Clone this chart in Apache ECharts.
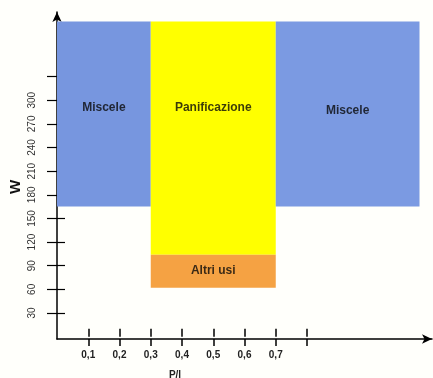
<!DOCTYPE html>
<html><head><meta charset="utf-8">
<script src="https://cdn.jsdelivr.net/npm/echarts@6/dist/echarts.min.js"></script>
<style>html,body{margin:0;padding:0;background:#fffffb}#c{width:433px;height:378px}</style>
</head><body><div id="c"></div>
<script>
// Regions (W vs P/L)
const regions = ['Miscele', 'Panificazione', 'Miscele', 'Altri usi'];
const plStart = [0, 0.3, 0.7, 0.3];
const plEnd = [0.3, 0.7, 1.16, 0.7];
const wLow = [165, 104, 165, 62];
const wHigh = [400, 400, 400, 104];
// label anchors
const labelPL = [0.15, 0.5, 0.93, 0.5];
const labelW = [290, 290, 287, 84];
// ticks
const wTicks = [30, 60, 90, 120, 150, 180, 210, 240, 270, 300, 330];
const wLabels = [30, 60, 90, 120, 150, 180, 210, 240, 270, 300];
const wCrossTicks = [30, 60, 90, 120, 150];
const plTicks = [0.1, 0.2, 0.3, 0.4, 0.5, 0.6, 0.7, 0.8];
const plLabels = [0.1, 0.2, 0.3, 0.4, 0.5, 0.6, 0.7];

const colors = ['#7796df', '#ffff00', '#7b9ae2', '#f5a243'];

const chart = echarts.init(document.getElementById('c'));
const font = 'Liberation Sans, Arial, sans-serif';
const rectData = regions.map((r, i) => [plStart[i], plEnd[i], wLow[i], wHigh[i]]);
const labelData = regions.map((r, i) => ({ name: r, value: [labelPL[i], labelW[i]] }));

chart.setOption({
  backgroundColor: '#fffffb',
  animation: false,
  grid: { left: 57, right: 1, top: 12, bottom: 39 },
  xAxis: [{
    type: 'value', min: 0, max: 1.2, position: 'bottom',
    axisLine: { show: true, onZero: false, symbol: ['none', 'arrow'], symbolSize: [7, 10], lineStyle: { color: '#000', width: 1.5 } },
    axisTick: { show: true, customValues: plTicks, length: 7, lineStyle: { color: '#000', width: 1.5 } },
    axisLabel: { customValues: plLabels, margin: 11, fontFamily: font, fontSize: 10, fontWeight: 'bold', color: '#222',
      formatter: v => v.toFixed(1).replace('.', ',') },
    splitLine: { show: false }
  }, {
    type: 'value', min: 0, max: 1.2, position: 'bottom', offset: 0,
    axisLine: { show: false },
    axisTick: { show: true, inside: true, customValues: plTicks, length: 8, lineStyle: { color: '#000', width: 1.5 } },
    axisLabel: { show: false },
    splitLine: { show: false }
  }],
  yAxis: [{
    type: 'value', min: -3, max: 412, position: 'left',
    axisLine: { show: true, onZero: false, symbol: ['none', 'arrow'], symbolSize: [7, 10], lineStyle: { color: '#000', width: 1.5 } },
    axisTick: { show: true, customValues: wTicks, length: 10, lineStyle: { color: '#000', width: 1.2 } },
    axisLabel: { customValues: wLabels, rotate: 90, margin: 20, fontFamily: font, fontSize: 10, color: '#333' },
    splitLine: { show: false }
  }, {
    type: 'value', min: -3, max: 412, position: 'left', offset: 0,
    axisLine: { show: false },
    axisTick: { show: true, inside: true, customValues: wCrossTicks, length: 8, lineStyle: { color: '#000', width: 1.2 } },
    axisLabel: { show: false },
    splitLine: { show: false }
  }],
  graphic: [
    { type: 'text', x: 16, y: 187, rotation: Math.PI / 2,
      style: { text: 'W', font: 'bold 15px ' + font, fill: '#111', align: 'center', verticalAlign: 'middle' } },
    { type: 'text', x: 175, y: 375,
      style: { text: 'P/l', font: 'bold 10px ' + font, fill: '#222', align: 'center', verticalAlign: 'middle' } }
  ],
  series: [{
    type: 'custom', xAxisIndex: 0, yAxisIndex: 0, z: 1,
    data: rectData,
    renderItem: function (params, api) {
      const p0 = api.coord([api.value(0), api.value(3)]);
      const p1 = api.coord([api.value(1), api.value(2)]);
      return { type: 'rect', shape: { x: p0[0], y: p0[1], width: p1[0] - p0[0], height: p1[1] - p0[1] },
        style: { fill: colors[params.dataIndex] } };
    }
  }, {
    type: 'scatter', xAxisIndex: 0, yAxisIndex: 0, z: 3, symbolSize: 0,
    data: labelData,
    label: { show: true, position: 'inside', formatter: p => p.name, fontFamily: font, fontSize: 12, fontWeight: 'bold', color: '#0a0a0a' }
  }]
});
</script></body></html>
